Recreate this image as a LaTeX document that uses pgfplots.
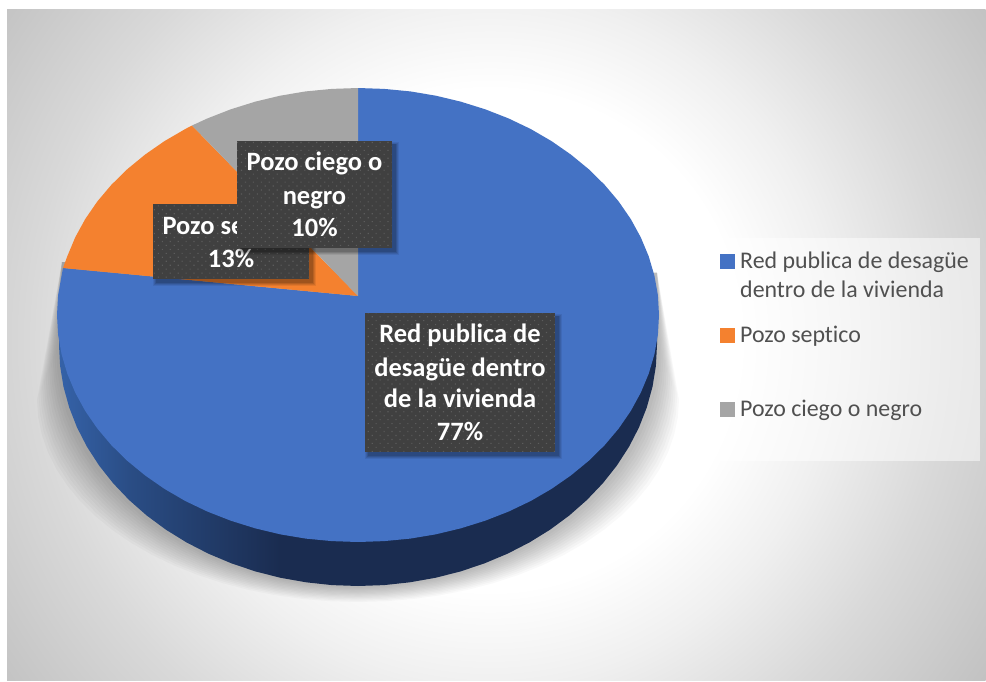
\documentclass[border=0pt]{standalone}
\usepackage{pgfplots}
\pgfplotsset{compat=1.18}
\usepackage{pgfplotstable}
\usepackage{fontspec}
\setmainfont{Carlito}[Ligatures=NoCommon]
\usetikzlibrary{patterns.meta}
\definecolor{cblue}{HTML}{4472C4}
\definecolor{corange}{HTML}{F4812F}
\definecolor{cgray}{HTML}{A5A5A5}
\definecolor{sideA}{HTML}{3562A8}
\definecolor{sideM}{HTML}{2A4D85}
\definecolor{sideB}{HTML}{1A2C50}
\definecolor{boxc}{HTML}{404040}
\definecolor{dotc}{HTML}{5C5C5C}
\definecolor{legt}{HTML}{505050}
\pgfdeclareradialshading{bgshade}{\pgfpoint{0bp}{0bp}}{%
 color(0bp)=(white); color(10.1bp)=(white); color(13.9bp)=(white!94!black);
 color(18.5bp)=(white!85!black); color(24.2bp)=(white!76!black); color(50bp)=(white!70!black)}
\pgfdeclarehorizontalshading{sideshade}{100bp}{%
 color(0bp)=(sideA); color(25bp)=(sideA); color(30.9bp)=(sideM); color(43.5bp)=(sideB); color(100bp)=(sideB)}
% unit rim used only for the soft shadow beneath the pie
\pgfplotstableread{
c s f
-0.99 -0.344 0
-1 0 1
-0.9962 0.0872 1
-0.9848 0.1736 1
-0.9659 0.2588 1
-0.9397 0.3420 1
-0.9063 0.4226 1
-0.8660 0.5 1
-0.8192 0.5736 1
-0.7660 0.6428 1
-0.7071 0.7071 1
-0.6428 0.7660 1
-0.5736 0.8192 1
-0.5 0.8660 1
-0.4226 0.9063 1
-0.3420 0.9397 1
-0.2588 0.9659 1
-0.1736 0.9848 1
-0.0872 0.9962 1
0 1 1
0.0872 0.9962 1
0.1736 0.9848 1
0.2588 0.9659 1
0.3420 0.9397 1
0.4226 0.9063 1
0.5 0.8660 1
0.5736 0.8192 1
0.6428 0.7660 1
0.7071 0.7071 1
0.7660 0.6428 1
0.8192 0.5736 1
0.8660 0.5 1
0.9063 0.4226 1
0.9397 0.3420 1
0.9659 0.2588 1
0.9848 0.1736 1
0.9962 0.0872 1
1 0 1
1 -0.3 0
}\rimtable
\newcommand{\shadowlayer}[1]{%
 \addplot[draw=none,fill=black,fill opacity=0.025,forget plot] table[
  x expr={358+\thisrow{c}*(299+22*#1*\thisrow{f})},
  y expr={345+55*#1*\thisrow{f}+\thisrow{s}*(241-39*#1*\thisrow{f})}] {\rimtable};}
\newcommand{\lbl}[3]{\node[anchor=base,inner sep=0pt,text=white,font=\fontsize{26.5}{30}\selectfont\bfseries] at (axis cs:#1,#2) {#3};}
\newcommand{\lgd}[3]{\node[anchor=base west,inner sep=0pt,text=legt,font=\fontsize{23.9}{28}\selectfont] at (axis cs:#1,#2) {#3};}
\newcommand{\bx}[4]{%
 \fill[black,opacity=0.07] ([shift={(0pt,-1pt)}]axis cs:#1,#2) rectangle ([shift={(7pt,-7pt)}]axis cs:#3,#4);
 \fill[black,opacity=0.09] ([shift={(1pt,-2pt)}]axis cs:#1,#2) rectangle ([shift={(6pt,-6pt)}]axis cs:#3,#4);
 \fill[black,opacity=0.11] ([shift={(2pt,-3pt)}]axis cs:#1,#2) rectangle ([shift={(5pt,-5pt)}]axis cs:#3,#4);
 \fill[black,opacity=0.13] ([shift={(3pt,-3pt)}]axis cs:#1,#2) rectangle ([shift={(4pt,-4pt)}]axis cs:#3,#4);
 \fill[boxc] (axis cs:#1,#2) rectangle (axis cs:#3,#4);
 \fill[pattern={Dots[distance=5.6pt,angle=45,radius=0.8pt]},pattern color=dotc] (axis cs:#1,#2) rectangle (axis cs:#3,#4);}
\begin{document}
\begin{tikzpicture}
\useasboundingbox (0,0) rectangle (986pt,681pt);
\begin{scope}
\clip (7pt,0.5pt) rectangle (985.5pt,671pt);
\shade[shading=bgshade] (490pt,341pt) circle (620pt);
\end{scope}
\begin{axis}[
 scale only axis,width=986pt,height=681pt,
 xmin=0,xmax=986,ymin=0,ymax=681,y dir=reverse,
 hide axis,clip=false]
\shadowlayer{1}\shadowlayer{0.92}\shadowlayer{0.84}\shadowlayer{0.76}\shadowlayer{0.68}\shadowlayer{0.6}
\shadowlayer{0.52}\shadowlayer{0.44}\shadowlayer{0.36}\shadowlayer{0.28}\shadowlayer{0.2}\shadowlayer{0.12}
% side wall
\addplot[draw=none,shading=sideshade,forget plot] coordinates {
(59,310)(59,345)(60.1,366)(63.5,386.8)(69.2,407.4)(77,427.4)(87,446.8)(99.1,465.5)(113.1,483.2)(129,499.9)(146.6,515.4)(165.8,529.6)(186.5,542.4)(208.5,553.7)(231.6,563.4)(255.7,571.5)(280.6,577.8)(306.1,582.3)(331.9,585.1)(358,586)(384.1,585.1)(409.9,582.3)(435.4,577.8)(460.3,571.5)(484.4,563.4)(507.5,553.7)(529.5,542.4)(550.2,529.6)(569.4,515.4)(587,499.9)(602.9,483.2)(616.9,465.5)(629,446.8)(639,427.4)(646.8,407.4)(652.5,386.8)(655.9,366)(657,345)(657,310)};
% Red publica 77 %
\addplot[draw=none,fill=cblue,forget plot] coordinates {
(358,296)(63,268)(61.6,275.6)(58.1,295.2)(57,315)(58.1,334.8)(61.6,354.4)(67.3,373.7)(75.2,392.6)(85.2,410.9)(97.3,428.5)(111.4,445.2)(127.4,460.9)(145.2,475.5)(164.5,488.9)(185.3,501)(207.5,511.6)(230.8,520.7)(255.1,528.3)(280.1,534.3)(305.7,538.6)(331.8,541.1)(358,542)(384.2,541.1)(410.3,538.6)(435.9,534.3)(460.9,528.3)(485.2,520.7)(508.5,511.6)(530.7,501)(551.5,488.9)(570.8,475.5)(588.6,460.9)(604.6,445.2)(618.7,428.5)(630.8,410.9)(640.8,392.6)(648.7,373.7)(654.4,354.4)(657.9,334.8)(659,315)(657.9,295.2)(654.4,275.6)(648.7,256.3)(640.8,237.4)(630.8,219.1)(618.7,201.5)(604.6,184.8)(588.6,169.1)(570.8,154.5)(551.5,141.1)(530.7,129)(508.5,118.4)(485.2,109.3)(460.9,101.7)(435.9,95.7)(410.3,91.4)(384.2,88.9)(358,88)};
% Pozo septico 13 %
\addplot[draw=none,fill=corange,forget plot] coordinates {
(358,296)(192,125.5)(185.3,129)(164.5,141.1)(145.2,154.5)(127.4,169.1)(111.4,184.8)(97.3,201.5)(85.2,219.1)(75.2,237.4)(67.3,256.3)(63,268)};
% Pozo ciego 10 %
\addplot[draw=none,fill=cgray,forget plot] coordinates {
(358,296)(358,88)(331.8,88.9)(305.7,91.4)(280.1,95.7)(255.1,101.7)(230.8,109.3)(207.5,118.4)(192,125.5)};
% legend
\fill[white,opacity=0.5] (axis cs:707,238) rectangle (axis cs:980,461);
\addplot[only marks,mark=square*,mark size=7pt,color=cblue,forget plot] coordinates {(727,261)};
\addplot[only marks,mark=square*,mark size=7pt,color=corange,forget plot] coordinates {(727,335)};
\addplot[only marks,mark=square*,mark size=7pt,color=cgray,forget plot] coordinates {(727,409)};
\lgd{740}{268}{Red publica de desagüe}
\lgd{740}{297}{dentro de la vivienda}
\lgd{740}{342}{Pozo septico}
\lgd{740}{416}{Pozo ciego o negro}
% data labels
\bx{153.3}{204}{309}{278.7}
\lbl{231}{234}{Pozo septico}
\lbl{231}{267.7}{13\%}
\bx{237}{141}{391.7}{247.7}
\lbl{314.5}{170.7}{Pozo ciego o}
\lbl{314.5}{204}{negro}
\lbl{314.5}{236}{10\%}
\bx{365}{313.3}{555}{451.7}
\lbl{460}{342.7}{Red publica de}
\lbl{460}{376}{desagüe dentro}
\lbl{460}{407.7}{de la vivienda}
\lbl{460}{440.7}{77\%}
\end{axis}
\end{tikzpicture}
\end{document}
